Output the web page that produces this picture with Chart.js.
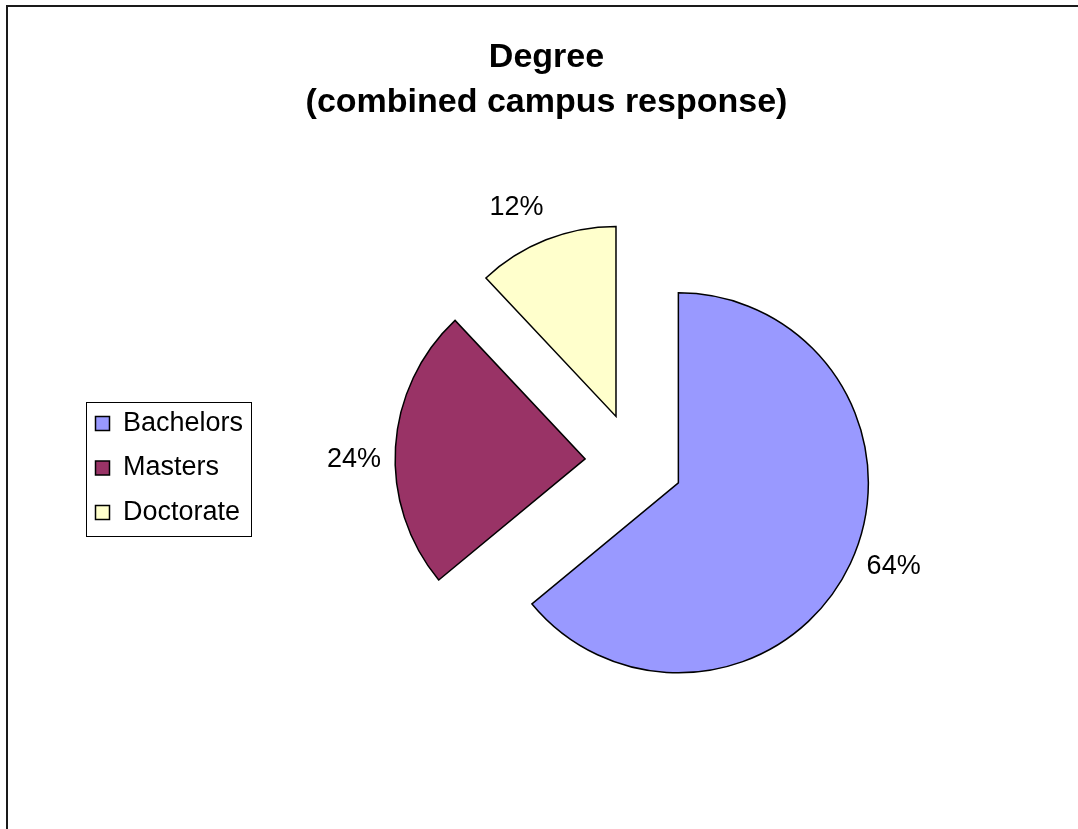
<!DOCTYPE html>
<html>
<head>
<meta charset="utf-8">
<script src="https://cdn.jsdelivr.net/npm/chart.js@4.4.1/dist/chart.umd.min.js"></script>
<style>
  html, body { margin: 0; padding: 0; background: #ffffff; }
  #wrap { width: 1078px; height: 829px; }
</style>
</head>
<body>
<div id="wrap"><canvas id="c" width="1078" height="829"></canvas></div>
<script>
const titleLines = ['Degree', '(combined campus response)'];
const categories = ['Bachelors', 'Masters', 'Doctorate'];
const values = [64, 24, 12];
const sliceColors = ['#9999FF', '#993366', '#FFFFCC'];

const FONT = "'Liberation Sans', Arial, sans-serif";

const framePlugin = {
  id: 'frame',
  beforeDraw(chart) {
    const ctx = chart.ctx;
    ctx.save();
    ctx.fillStyle = '#ffffff';
    ctx.fillRect(0, 0, chart.width, chart.height);
    ctx.strokeStyle = '#1a1a1a';
    ctx.lineWidth = 2;
    ctx.beginPath();
    ctx.moveTo(7, chart.height + 5);
    ctx.lineTo(7, 6);
    ctx.lineTo(chart.width + 5, 6);
    ctx.stroke();
    ctx.restore();
  }
};

const explodePlugin = {
  id: 'explode',
  afterDatasetsUpdate(chart, args, opts) {
    const meta = chart.getDatasetMeta(0);
    const d = opts.distance || 0;
    meta.data.forEach(arc => {
      const cx = (chart.chartArea.left + chart.chartArea.right) / 2;
      const cy = (chart.chartArea.top + chart.chartArea.bottom) / 2;
      arc.$baseX = cx; arc.$baseY = cy;
      const mid = (arc.startAngle + arc.endAngle) / 2;
      arc.x = cx + Math.cos(mid) * d;
      arc.y = cy + Math.sin(mid) * d;
    });
  }
};

const legendBoxPlugin = {
  id: 'legendBox',
  afterDraw(chart) {
    const lg = chart.legend;
    if (!lg || !lg.legendHitBoxes || !lg.legendHitBoxes.length) return;
    const hb = lg.legendHitBoxes;
    let l = Infinity, r = -Infinity;
    hb.forEach(h => { l = Math.min(l, h.left); r = Math.max(r, h.left + h.width); });
    const t = hb[0].top - 8;
    const b = hb[hb.length - 1].top + hb[hb.length - 1].height + 9.5;
    const ctx = chart.ctx;
    ctx.save();
    ctx.strokeStyle = '#000000';
    ctx.lineWidth = 1;
    ctx.strokeRect(Math.round(l - 10) + 0.5, Math.round(t) + 0.5, Math.round(r + 7 - (l - 10)), Math.round(b - t));
    ctx.restore();
  }
};

const pctLabelPlugin = {
  id: 'pctLabels',
  afterDatasetsDraw(chart, args, opts) {
    const meta = chart.getDatasetMeta(0);
    const data = chart.data.datasets[0].data;
    const total = data.reduce((a, b) => a + b, 0);
    const ctx = chart.ctx;
    ctx.save();
    ctx.font = opts.font;
    ctx.fillStyle = '#000000';
    ctx.textAlign = 'center';
    ctx.textBaseline = 'middle';
    meta.data.forEach((arc, i) => {
      const mid = (arc.startAngle + arc.endAngle) / 2 + opts.angleAdjust;
      const dist = opts.distance + arc.outerRadius + opts.gap;
      const x = arc.$baseX + Math.cos(mid) * dist;
      const y = arc.$baseY + Math.sin(mid) * dist;
      ctx.fillText(Math.round(data[i] / total * 100) + '%', x, y);
    });
    ctx.restore();
  }
};

new Chart(document.getElementById('c'), {
  type: 'pie',
  data: {
    labels: categories,
    datasets: [{
      data: values,
      backgroundColor: sliceColors,
      borderColor: '#000000',
      borderWidth: 1.5,
      borderJoinStyle: 'miter'
    }]
  },
  plugins: [framePlugin, explodePlugin, legendBoxPlugin, pctLabelPlugin],
  options: {
    responsive: false,
    devicePixelRatio: 1,
    animation: false,
    events: [],
    radius: 190,
    layout: { padding: { left: 78, right: 63, top: 0, bottom: 37 } },
    plugins: {
      tooltip: { enabled: false },
      title: {
        display: true,
        text: titleLines,
        color: '#000000',
        font: { family: FONT, size: 34, weight: 'bold', lineHeight: 45 / 34 },
        padding: { top: 35, bottom: 7 }
      },
      legend: {
        position: 'left',
        align: 'center',
        fullSize: false,
        title: { display: true, text: ' ', font: { size: 1, lineHeight: 1 }, padding: { top: 0, bottom: 11 } },
        labels: {
          color: '#000000',
          font: { family: FONT, size: 27 },
          boxWidth: 14,
          boxHeight: 14,
          padding: 17.5
        }
      },
      explode: { distance: 49 },
      pctLabels: { distance: 49, gap: 41, angleAdjust: -3.2 * Math.PI / 180, font: "27px " + FONT }
    }
  }
});
</script>
</body>
</html>
